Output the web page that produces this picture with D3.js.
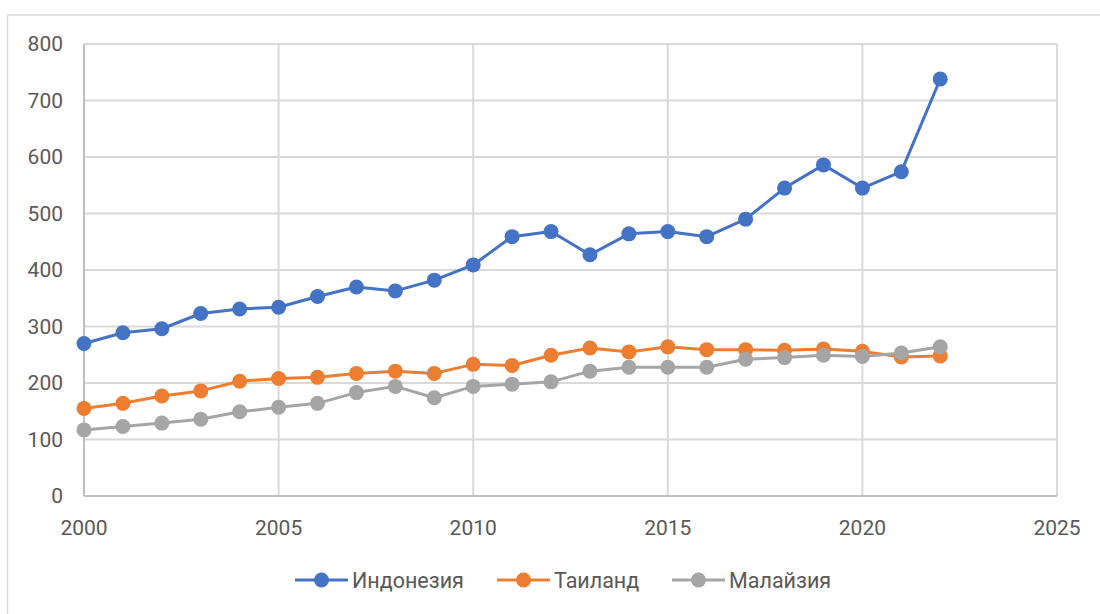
<!DOCTYPE html>
<html><head><meta charset="utf-8">
<script src="https://cdn.jsdelivr.net/npm/d3@7"></script>
<style>body{margin:0;background:#fff}svg{display:block}</style>
</head><body>
<svg id="c" width="1100" height="614"></svg>
<script>
const years = d3.range(2000, 2023);
const indonesia = [270,289,296,323,331,334,353,370,363,382,409,459,468,427,464,468,459,490,545,586,545,574,738];
const thailand  = [155,164,177,186,203,208,210,217,221,217,233,231,249,262,255,264,259,259,258,260,256,246,248];
const malaysia  = [117,123,129,136,149,157,164,183,194,174,194,198,202,221,228,228,228,242,245,249,247,253,264];
const seriesNames = ["Индонезия","Таиланд","Малайзия"];
const seriesColors = ["#4472C4","#ED7D31","#A5A5A5"];
const xTicks = [2000,2005,2010,2015,2020,2025];
const yTicks = [0,100,200,300,400,500,600,700,800];

const svg = d3.select("#c");
const font = "Roboto, 'Liberation Sans', sans-serif";
// chart border
svg.append("rect").attr("x",7.5).attr("y",15).attr("width",1100).attr("height",620)
  .attr("fill","none").attr("stroke","#d9d9d9").attr("stroke-width",1.5);

const L=84,R=1057,T=44,B=496;
const x = d3.scaleLinear().domain([2000,2025]).range([L,R]);
const y = d3.scaleLinear().domain([0,800]).range([B,T]);

const g = svg.append("g");
// grid
g.selectAll(".hg").data(yTicks).join("line")
  .attr("x1",L).attr("x2",R).attr("y1",d=>y(d)).attr("y2",d=>y(d))
  .attr("stroke","#d9d9d9").attr("stroke-width",2);
g.selectAll(".vg").data(xTicks).join("line")
  .attr("y1",T).attr("y2",B).attr("x1",d=>x(d)).attr("x2",d=>x(d))
  .attr("stroke","#d9d9d9").attr("stroke-width",2);
// axis lines
g.append("line").attr("x1",L).attr("x2",R).attr("y1",B).attr("y2",B).attr("stroke","#bfbfbf").attr("stroke-width",2);
g.append("line").attr("x1",L).attr("x2",L).attr("y1",T).attr("y2",B).attr("stroke","#bfbfbf").attr("stroke-width",2);

// y labels
g.selectAll(".yl").data(yTicks).join("text")
  .attr("x",63).attr("y",d=>y(d)).attr("dy","0.35em").attr("text-anchor","end")
  .attr("font-family",font).attr("font-size",21).attr("fill","#595959").text(d=>d);
g.selectAll(".xl").data(xTicks).join("text")
  .attr("x",d=>x(d)).attr("y",535).attr("text-anchor","middle")
  .attr("font-family",font).attr("font-size",21).attr("fill","#595959").text(d=>d);

const data = [indonesia, thailand, malaysia];
const line = d3.line().x((d,i)=>x(years[i])).y(d=>y(d));
data.forEach((vals,si)=>{
  const sg = svg.append("g");
  sg.append("path").datum(vals).attr("d",line).attr("fill","none")
    .attr("stroke",seriesColors[si]).attr("stroke-width",3).attr("stroke-linejoin","round");
  sg.selectAll("circle").data(vals).join("circle")
    .attr("cx",(d,i)=>x(years[i])).attr("cy",d=>y(d)).attr("r",7.5).attr("fill",seriesColors[si]);
});

// legend
const legX = [295,497,672];
const lg = svg.append("g");
seriesNames.forEach((n,i)=>{
  const gx = legX[i], gy = 580;
  lg.append("line").attr("x1",gx).attr("x2",gx+53).attr("y1",gy).attr("y2",gy)
    .attr("stroke",seriesColors[i]).attr("stroke-width",3);
  lg.append("circle").attr("cx",gx+26.5).attr("cy",gy).attr("r",7.5).attr("fill",seriesColors[i]);
  lg.append("text").attr("x",gx+57).attr("y",gy).attr("dy","0.35em")
    .attr("font-family",font).attr("font-size",21.5).attr("fill","#595959").text(n);
});
</script>
</body></html>
